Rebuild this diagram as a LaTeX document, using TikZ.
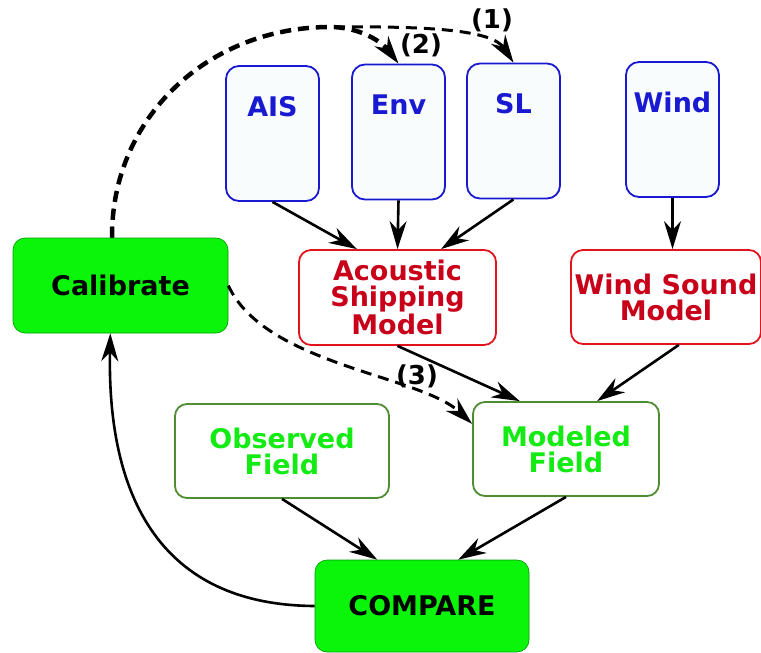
\documentclass[tikz,border=0pt]{standalone}
\usepackage{fontspec}
\setmainfont{DejaVu Sans}
\usepackage{tikz}
\usetikzlibrary{arrows.meta,positioning}

\definecolor{inblue}{RGB}{25,25,210}
\definecolor{inpale}{RGB}{248,252,253}
\definecolor{modred}{RGB}{225,20,30}
\definecolor{modtxt}{RGB}{200,0,25}
\definecolor{fldedge}{RGB}{80,140,50}
\definecolor{fldtxt}{RGB}{20,235,20}
\definecolor{actgreen}{RGB}{10,245,10}

\begin{document}
\begin{tikzpicture}[x=1pt,y=-1pt]
	\tikzstyle{Input}	= [rectangle, rounded corners=13pt, draw=inblue, line width=1.8pt, fill=inpale, text=inblue, minimum width=93pt, inner sep=0pt, text height=50pt, text depth=85pt, font=\fontsize{27}{26}\selectfont\bfseries]
	\tikzstyle{Model}	= [rectangle, rounded corners=12pt, draw=modred, line width=1.8pt, fill=white, text=modtxt, inner sep=0pt, align=center, font=\fontsize{27}{26}\selectfont\bfseries]
	\tikzstyle{Field}	= [Model, draw=fldedge, text=fldtxt]
	\tikzstyle{Action}	= [Model, draw=green!60!black, line width=0.6pt, fill=actgreen, text=black]
	\tikzstyle{Tag}		= [font=\fontsize{26}{28}\selectfont\bfseries, inner sep=0pt]
	\tikzstyle{Flow}	= [line width=2.6pt, -{Stealth[length=28pt, width=17pt, inset=9pt]}]
	\tikzstyle{Feedback}	= [Flow, line width=3pt, dash pattern=on 11pt off 7pt]

	\useasboundingbox (0,0) rectangle (761,653);

	% inputs
	\foreach \n/\x/\y/\t in {ais/272.5/133.5/AIS, env/398.5/132/Env, sl/513.5/131/SL, wind/672.5/129.5/Wind}
		\node (\n) at (\x, \y) [Input] {\t};

	% models and fields
	\node (asm) at (397.5, 297.5) [Model, minimum width=197pt, minimum height=95pt] {Acoustic\\Shipping\\Model};
	\node (wsm) at (666, 297) [Model, minimum width=190pt, minimum height=94pt] {Wind Sound\\Model};
	\node (of) at (282, 451) [Field, minimum width=214pt, minimum height=94pt] {Observed\\Field};
	\node (mf) at (566, 449) [Field, minimum width=186pt, minimum height=94pt] {Modeled\\Field};
	\node (cal) at (120.5, 285.5) [Action, minimum width=215pt, minimum height=95pt] {Calibrate};
	\node (cmp) at (422, 606) [Action, minimum width=214pt, minimum height=92pt] {COMPARE};

	\foreach \a/\b in {ais.south/asm.130, env.south/asm.north, sl.south/asm.48, asm.south/mf.134, wsm.-75/mf.57, of.south/cmp.134, mf.south/cmp.52}
		\draw [Flow] (\a) to (\b);
	\draw [Flow] (wind.south) to (wind.south |- wsm.north);

	% feedback loops
	\draw [Flow] (cmp.west) .. controls (130,605) and (108,450) .. (cal.258);
	\draw [Feedback] (cal.100) .. controls (111,118) and (208,27) .. (330,27) .. controls (430,26) and (492,30) .. (sl.north);
	\draw [Feedback, line width=4.5pt] (cal.100) .. controls (111,118) and (208,27) .. (330,27) .. controls (360,27) and (382,42) .. (env.north);
	\draw [Feedback] (cal.east) .. controls (265,365) and (420,375) .. (mf.165);

	\node (t1) at (492, 20) [Tag] {(1)};
	\node (t2) at (421, 45) [Tag] {(2)};
	\node (t3) at (417, 376) [Tag] {(3)};
\end{tikzpicture}
\end{document}
